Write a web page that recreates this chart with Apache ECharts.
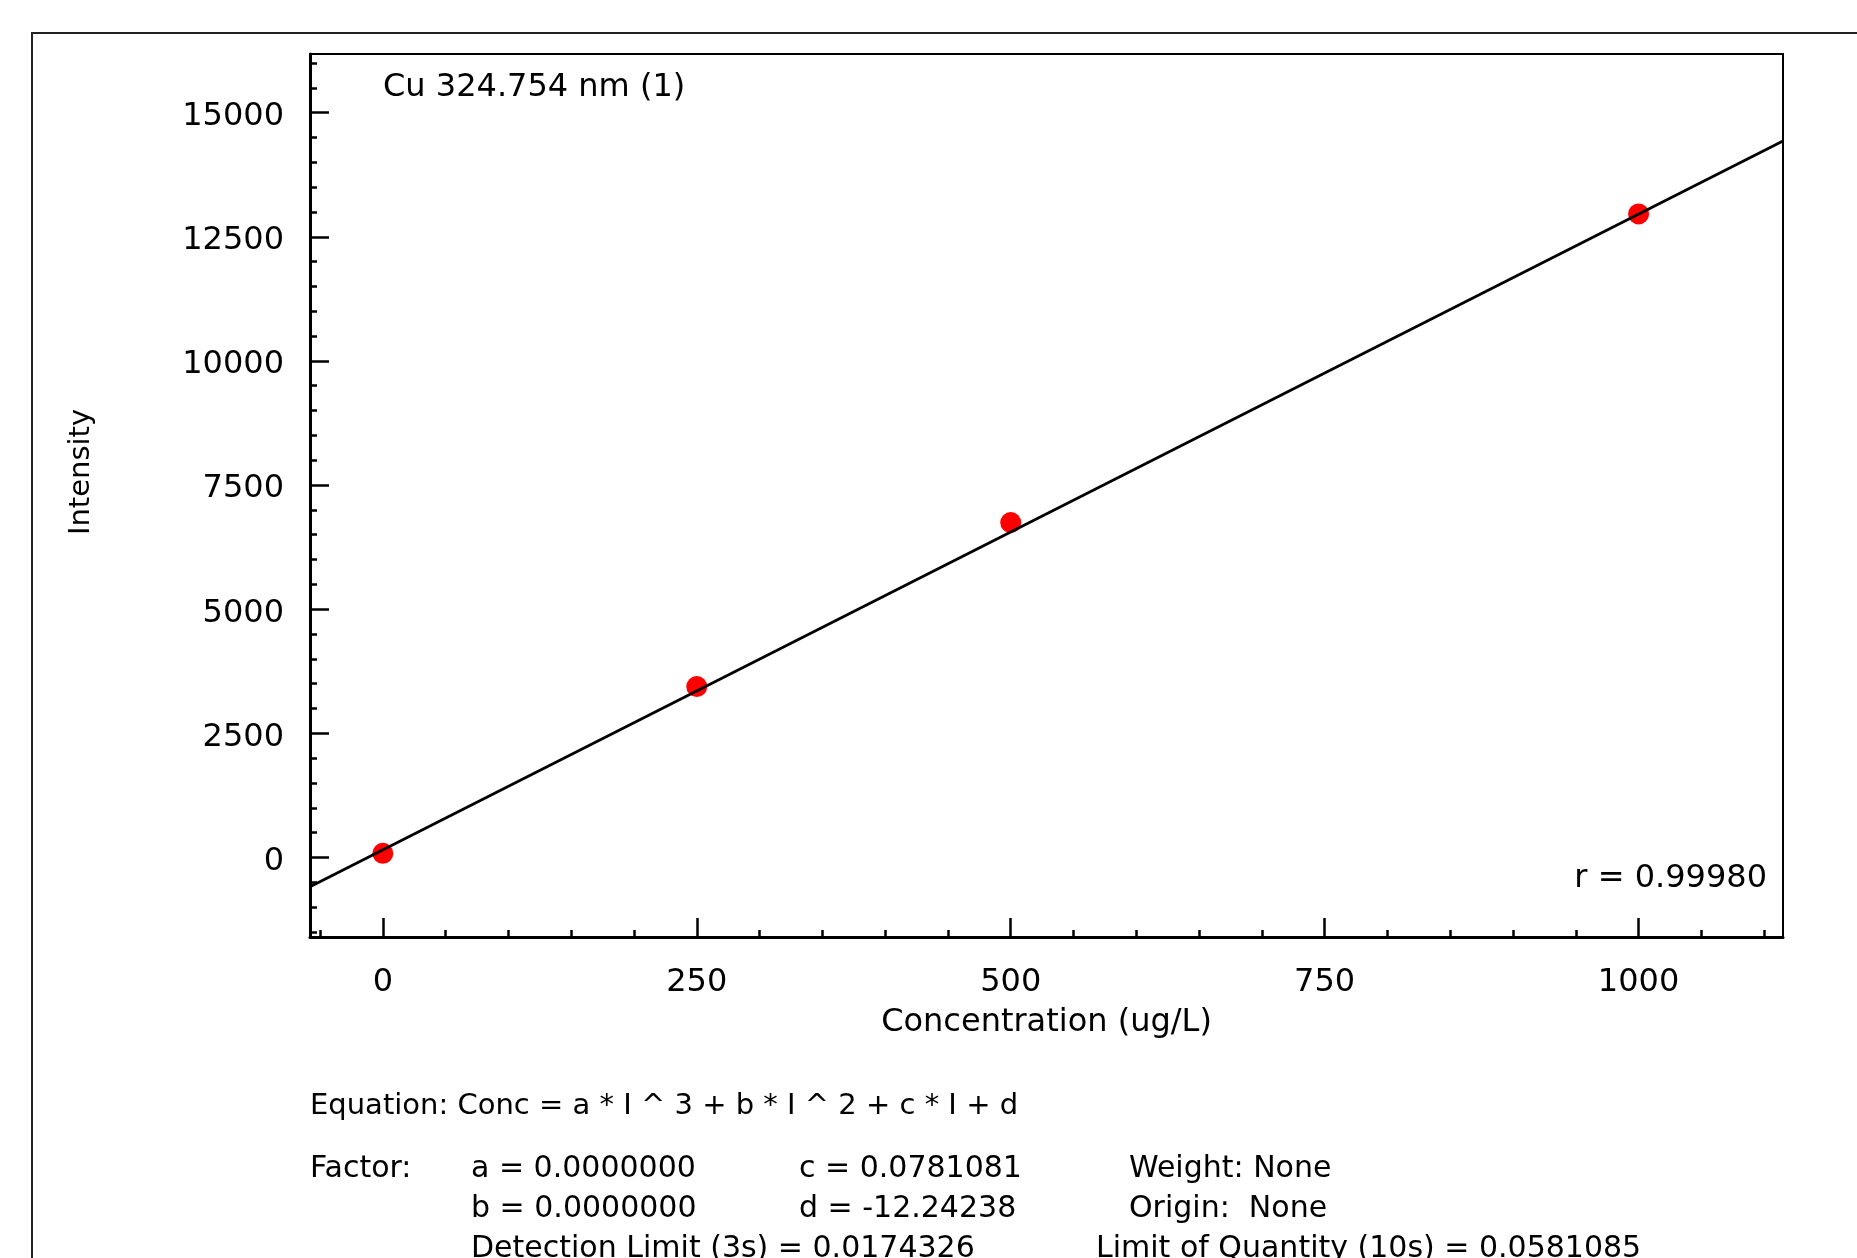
<!DOCTYPE html>
<html>
<head>
<meta charset="utf-8">
<title>Cu 324.754 nm calibration</title>
<script src="https://cdn.jsdelivr.net/npm/echarts@6/dist/echarts.min.js"></script>
<style>
  html, body { margin: 0; padding: 0; background: #fff; }
  #chart { width: 1857px; height: 1258px; }
</style>
</head>
<body>
<div id="chart"></div>
<script>
// calibration standards (ug/L) and measured intensity
var stdConc = [0, 250, 500, 1000];
var stdIntensity = [85, 3443, 6745, 12960];

// fitted line, read at both edges of the plot
var fitConc = [-58, 1115];
var fitIntensity = [-590, 14430];

// axis ticks
var xMajorTicks = [0, 250, 500, 750, 1000];
var xMinorTicks = [-50, 0, 50, 100, 150, 200, 250, 300, 350, 400, 450, 500, 550, 600, 650, 700, 750, 800, 850, 900, 950, 1000, 1050, 1100];
var yMajorTicks = [0, 2500, 5000, 7500, 10000, 12500, 15000];
var yMinorTicks = [-1500, -1000, -500, 0, 500, 1000, 1500, 2000, 2500, 3000, 3500, 4000, 4500, 5000, 5500, 6000, 6500, 7000, 7500, 8000, 8500, 9000, 9500, 10000, 10500, 11000, 11500, 12000, 12500, 13000, 13500, 14000, 14500, 15000, 15500, 16000];

var xRange = [-58, 1115];
var yRange = [-1600, 16180];

var FONT = 'DejaVu Sans';

var chart = echarts.init(document.getElementById('chart'));

function txt(x, y, text, size, align) {
  return {
    type: 'text',
    x: x,
    y: y,
    style: {
      text: text,
      fontFamily: FONT,
      fontSize: size,
      fill: '#000',
      textAlign: align || 'left',
      textVerticalAlign: 'middle'
    }
  };
}

function plain(v) { return String(v); }

var option = {
  backgroundColor: '#fff',
  animation: false,
  grid: {
    left: 310, top: 54, width: 1473, height: 883,
    show: true, borderColor: '#000', borderWidth: 2
  },
  xAxis: [
    {
      type: 'value', min: xRange[0], max: xRange[1],
      name: 'Concentration (ug/L)', nameLocation: 'middle', nameGap: 70,
      nameTextStyle: { fontFamily: FONT, fontSize: 32, color: '#000' },
      axisLine: { onZero: false, lineStyle: { color: '#000', width: 3 } },
      axisTick: { inside: true, length: 19, lineStyle: { color: '#000', width: 2.5 }, customValues: xMajorTicks },
      axisLabel: { margin: 30, fontFamily: FONT, fontSize: 32, color: '#000', formatter: plain, customValues: xMajorTicks },
      splitLine: { show: false }
    },
    {
      type: 'value', min: xRange[0], max: xRange[1], position: 'bottom',
      axisLine: { show: false, onZero: false },
      axisTick: { inside: true, length: 7, lineStyle: { color: '#000', width: 2.5 }, customValues: xMinorTicks },
      axisLabel: { show: false },
      splitLine: { show: false }
    }
  ],
  yAxis: [
    {
      type: 'value', min: yRange[0], max: yRange[1],
      axisLine: { onZero: false, lineStyle: { color: '#000', width: 3 } },
      axisTick: { inside: true, length: 19, lineStyle: { color: '#000', width: 2.5 }, customValues: yMajorTicks },
      axisLabel: {
        margin: 26, color: '#000', customValues: yMajorTicks,
        formatter: function (v) { return '{v|' + v + '}'; },
        rich: { v: { fontFamily: FONT, fontSize: 32, color: '#000', padding: [8, 0, 0, 0] } }
      },
      splitLine: { show: false }
    },
    {
      type: 'value', min: yRange[0], max: yRange[1], position: 'left',
      axisLine: { show: false, onZero: false },
      axisTick: { inside: true, length: 7, lineStyle: { color: '#000', width: 2.5 }, customValues: yMinorTicks },
      axisLabel: { show: false },
      splitLine: { show: false }
    }
  ],
  series: [
    {
      type: 'scatter',
      symbol: 'circle',
      symbolSize: 21,
      itemStyle: { color: '#ff0000', opacity: 1 },
      data: stdConc.map(function (c, i) { return [c, stdIntensity[i]]; }),
      z: 2
    },
    {
      type: 'line',
      symbol: 'none',
      lineStyle: { color: '#000', width: 2.8 },
      data: fitConc.map(function (c, i) { return [c, fitIntensity[i]]; }),
      z: 3
    }
  ],
  graphic: [
    {
      type: 'rect',
      shape: { x: 32, y: 33, width: 1900, height: 1300 },
      style: { fill: 'none', stroke: '#222', lineWidth: 2 },
      silent: true
    },
    txt(383, 88, 'Cu 324.754 nm (1)', 32),
    txt(1767, 879, 'r = 0.99980', 32, 'right'),
    {
      type: 'text',
      x: 81, y: 472,
      rotation: Math.PI / 2,
      style: {
        text: 'Intensity', fontFamily: FONT, fontSize: 29, fill: '#000',
        textAlign: 'center', textVerticalAlign: 'middle'
      }
    },
    txt(310, 1106, 'Equation: Conc = a * I ^ 3 + b * I ^ 2 + c * I + d', 29),
    txt(310, 1169, 'Factor:', 30),
    txt(471, 1169, 'a = 0.0000000', 30),
    txt(799, 1169, 'c = 0.0781081', 30),
    txt(1129, 1169, 'Weight: None', 30),
    txt(471, 1209, 'b = 0.0000000', 30),
    txt(799, 1209, 'd = -12.24238', 30),
    txt(1129, 1209, 'Origin:  None', 30),
    txt(471, 1249, 'Detection Limit (3s) = 0.0174326', 30),
    txt(1096, 1249, 'Limit of Quantity (10s) = 0.0581085', 30)
  ]
};

chart.setOption(option);
</script>
</body>
</html>
